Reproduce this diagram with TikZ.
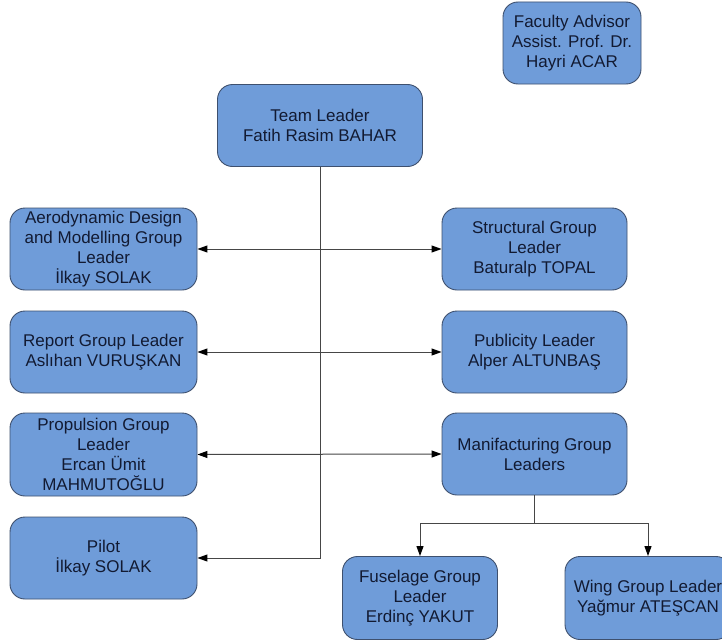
\documentclass[tikz,border=0pt]{standalone}
\usepackage{fontspec}
\setmainfont{Liberation Sans}
\usetikzlibrary{arrows.meta}
\definecolor{boxfill}{RGB}{111,156,217}
\definecolor{boxline}{RGB}{62,80,110}
\definecolor{boxtext}{RGB}{18,26,50}
\definecolor{conn}{RGB}{70,70,70}
\begin{document}
\begin{tikzpicture}[x=1pt,y=-1pt,
  orgbox/.style={draw=boxline, line width=0.9pt, fill=boxfill, rounded corners=15pt,
    align=center, inner sep=2pt, text=boxtext,
    font=\fontsize{17}{20}\selectfont, minimum height=82pt},
  link/.style={draw=conn, line width=1pt},
  tip/.style={-{Triangle[length=10pt,width=7pt,color=black]}},
  dtip/.style={{Triangle[length=10pt,width=7pt,color=black]}-{Triangle[length=10pt,width=7pt,color=black]}}
]
\useasboundingbox (0,0) rectangle (722,642);
\clip (0,0) rectangle (722,642);
\fill[white] (0,0) rectangle (722,642);

\node[orgbox, minimum width=138pt] (fac) at (572,43) {Faculty Advisor\\Assist. Prof. Dr.\\Hayri ACAR};
\node[orgbox, minimum width=205pt] (team) at (320,125.5) {Team Leader\\Fatih Rasim BAHAR};

\node[orgbox, minimum width=187pt] (aero) at (103.5,249) {Aerodynamic Design\\and Modelling Group\\Leader\\İlkay SOLAK};
\node[orgbox, minimum width=185pt] (struct) at (534.5,249) {Structural Group\\Leader\\Baturalp TOPAL};

\node[orgbox, minimum width=187pt] (report) at (103.5,352) {Report Group Leader\\Aslıhan VURUŞKAN};
\node[orgbox, minimum width=185pt] (pub) at (534.5,352) {Publicity Leader\\Alper ALTUNBAŞ};

\node[orgbox, minimum width=187pt, minimum height=83pt] (prop) at (103.5,454.5) {Propulsion Group\\Leader\\Ercan Ümit\\MAHMUTOĞLU};
\node[orgbox, minimum width=185pt] (manu) at (534.5,454) {Manifacturing Group\\Leaders};

\node[orgbox, minimum width=187pt] (pilot) at (103.5,558) {Pilot\\İlkay SOLAK};

\node[orgbox, minimum width=155pt, minimum height=83pt] (fus) at (420,598) {Fuselage Group\\Leader\\Erdinç YAKUT};
\node[orgbox, minimum width=166pt, minimum height=83pt] (wing) at (648,598) {Wing Group Leader\\Yağmur ATEŞCAN};

% connectors
\draw[link, tip] (team.south) |- (pilot.east);
\draw[link, dtip] (aero.east) -- (struct.west);
\draw[link, dtip] (report.east) -- (pub.west);
\draw[link, dtip] (prop.east) -- (manu.west);

\draw[link] (manu.south) -- ++(0,28) coordinate (split);
\draw[link, tip] (split) -| (fus.north);
\draw[link, tip] (split) -| (wing.north);
\end{tikzpicture}
\end{document}
